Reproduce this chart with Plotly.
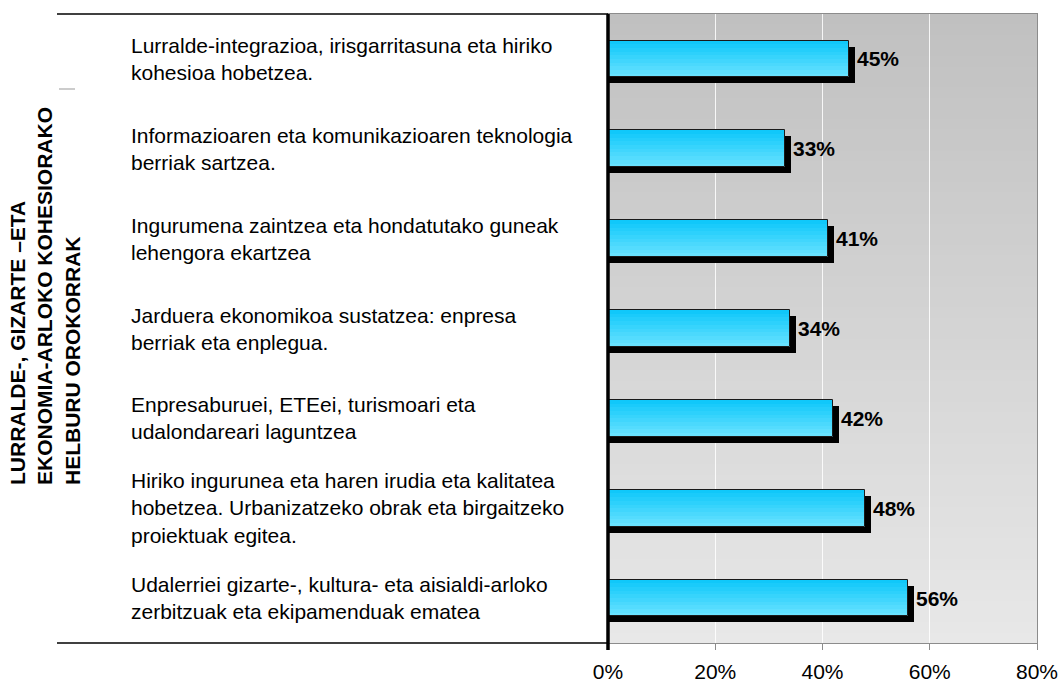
import plotly.graph_objects as go

categories = [
    "Lurralde-integrazioa, irisgarritasuna eta hiriko<br>kohesioa hobetzea.",
    "Informazioaren eta komunikazioaren teknologia<br>berriak sartzea.",
    "Ingurumena zaintzea eta hondatutako guneak<br>lehengora ekartzea",
    "Jarduera ekonomikoa sustatzea: enpresa<br>berriak eta enplegua.",
    "Enpresaburuei, ETEei, turismoari eta<br>udalondareari laguntzea",
    "Hiriko ingurunea eta haren irudia eta kalitatea<br>hobetzea. Urbanizatzeko obrak eta birgaitzeko<br>proiektuak egitea.",
    "Udalerriei gizarte-, kultura- eta aisialdi-arloko<br>zerbitzuak eta ekipamenduak ematea",
]
values = [45, 33, 41, 34, 42, 48, 56]
tick_values = [0, 20, 40, 60, 80]
tick_labels = ["0%", "20%", "40%", "60%", "80%"]
axis_title = "LURRALDE-, GIZARTE –ETA<br>EKONOMIA-ARLOKO KOHESIORAKO<br>HELBURU OROKORRAK"

FONT = "Liberation Sans, Arial, sans-serif"
W, H = 1060, 684
L, R, T, B = 608, 23, 14, 41
plot_w = W - L - R
plot_h = H - T - B
n = len(categories)
pos = list(range(n))

px_per_unit_x = plot_w / 80.0
px_per_unit_y = plot_h / n
sdx = 6 / px_per_unit_x
sdy = 6 / px_per_unit_y
bw = 0.41

fig = go.Figure()

# shadow bars
fig.add_trace(go.Bar(
    y=pos, x=[v + sdx for v in values], base=0, orientation="h",
    width=bw, offset=-bw / 2 + sdy,
    marker=dict(color="black", line=dict(width=0)),
    hoverinfo="skip", showlegend=False,
))

# main bars: layered fills from top to bottom giving a vertical colour gradient
NS = 10
top_rgb = (16, 200, 250)
bot_rgb = (104, 226, 255)
for k in range(NS):
    t = k / (NS - 1)
    col = tuple(round(a + (b - a) * t) for a, b in zip(top_rgb, bot_rgb))
    start = k * bw / NS
    fig.add_trace(go.Bar(
        y=pos, x=values, orientation="h",
        width=bw - start, offset=-bw / 2 + start,
        marker=dict(color=f"rgb{col}", line=dict(width=0)),
        hoverinfo="skip", showlegend=False,
    ))
# outline of main bars
fig.add_trace(go.Bar(
    y=pos, x=values, orientation="h",
    width=bw, offset=-bw / 2,
    marker=dict(color="rgba(0,0,0,0)", line=dict(color="#1a1a1a", width=1)),
    showlegend=False,
))

# gradient background stripes
shapes = []
N = 60
c_top, c_bot = 192, 232
for k in range(N):
    y1 = 1 - k / N
    y0 = 1 - (k + 1) / N - 0.002
    c = round(c_top + (c_bot - c_top) * (k + 0.5) / N)
    shapes.append(dict(type="rect", xref="paper", yref="paper", x0=0, x1=1,
                       y0=max(y0, 0), y1=y1, fillcolor=f"rgb({c},{c},{c})",
                       line=dict(width=0), layer="below"))

def px_x(px):
    return (px - L) / plot_w

def px_y(py):
    return (H - B - py) / plot_h

# frame lines on the left
shapes.append(dict(type="line", xref="paper", yref="paper", x0=px_x(57), x1=0,
                   y0=1, y1=1, line=dict(color="black", width=1.5)))
shapes.append(dict(type="line", xref="paper", yref="paper", x0=px_x(57), x1=0,
                   y0=0, y1=0, line=dict(color="black", width=1.5)))
shapes.append(dict(type="line", xref="paper", yref="paper", x0=px_x(59), x1=px_x(75),
                   y0=px_y(89), y1=px_y(89), line=dict(color="#999999", width=1)))
# thick vertical axis line
shapes.append(dict(type="line", xref="paper", yref="paper", x0=0, x1=0,
                   y0=px_y(650), y1=1, line=dict(color="black", width=3.5), layer="above"))

annotations = []
for i, (c, v) in enumerate(zip(categories, values)):
    annotations.append(dict(
        text=c, xref="paper", x=px_x(129), xanchor="left", align="left",
        yref="y", y=i, yanchor="middle", showarrow=False,
        font=dict(family=FONT, size=21, color="black"),
    ))
    annotations.append(dict(
        text=f"<b>{v}%</b>", xref="x", x=v + sdx, xanchor="left", xshift=0,
        yref="y", y=i, yanchor="middle", showarrow=False,
        font=dict(family=FONT, size=21, color="black"),
    ))

annotations.append(dict(
    text=f"<b>{axis_title}</b>", xref="paper", x=px_x(45), xanchor="center",
    yref="paper", y=px_y(296), yanchor="middle", textangle=-90, align="left",
    showarrow=False, font=dict(family=FONT, size=21, color="black"),
))

fig.update_layout(
    width=W, height=H,
    margin=dict(l=L, r=R, t=T, b=B, autoexpand=False),
    paper_bgcolor="white", plot_bgcolor="rgba(0,0,0,0)",
    barmode="overlay", bargap=0,
    shapes=shapes, annotations=annotations,
    xaxis=dict(range=[0, 80], tickvals=tick_values, ticktext=tick_labels,
               automargin=False,
               showgrid=True, gridcolor="rgba(255,255,255,0.85)", gridwidth=1,
               zeroline=False, showline=True, linecolor="#8c8c8c", linewidth=1,
               mirror=True, ticks="outside", ticklen=6, tickcolor="#8c8c8c",
               ticklabelstandoff=4,
               tickfont=dict(family=FONT, size=21, color="black")),
    yaxis=dict(range=[n - 0.5, -0.5], showticklabels=False, showgrid=False,
               automargin=False,
               zeroline=False, showline=True, linecolor="#8c8c8c", linewidth=1,
               mirror=True, ticks=""),
    font=dict(family=FONT),
)

fig.write_html("out.html", config={"displayModeBar": False},
               post_script="document.body.style.margin='0';")
